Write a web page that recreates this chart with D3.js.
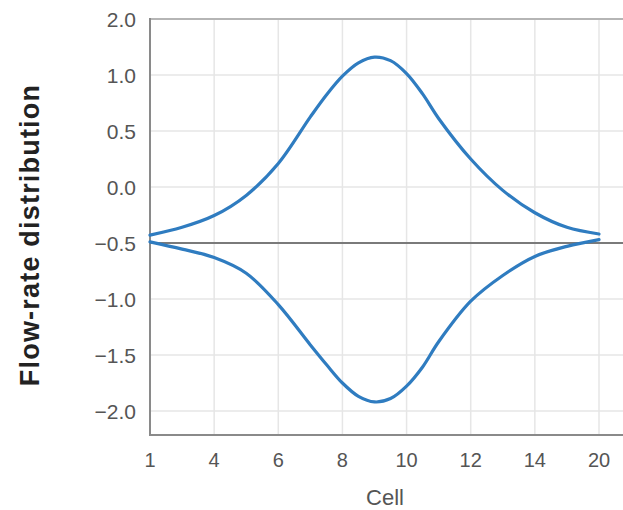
<!DOCTYPE html>
<html>
<head>
<meta charset="utf-8">
<script src="https://cdn.jsdelivr.net/npm/d3@7"></script>
<style>
  body { margin: 0; background: #fff; }
  svg { display: block; font-family: "Liberation Sans", Arial, sans-serif; }
</style>
</head>
<body>
<div id="chart"></div>
<script>
// tick labels (axes are evenly spaced between the labelled values)
const xTicks = [1, 4, 6, 8, 10, 12, 14, 20];
const yTicks = [2.0, 1.0, 0.5, 0.0, -0.5, -1.0, -1.5, -2.0];

// cells where the curves were read
const cells = [1, 2.5, 4, 5, 6, 7, 7.5, 8, 8.5, 9, 9.5, 10, 10.5, 11, 12, 13, 14, 17, 20];

// upper and lower flow-rate curves
const upperFlow = [-0.43, -0.36, -0.255, -0.075, 0.21, 0.626, 0.822, 0.99, 1.218, 1.32,
                   1.256, 1.025, 0.831, 0.612, 0.25, -0.03, -0.23, -0.36, -0.42];
const lowerFlow = [-0.49, -0.555, -0.63, -0.77, -1.05, -1.41, -1.585, -1.75, -1.869, -1.919,
                   -1.889, -1.778, -1.607, -1.382, -1.02, -0.79, -0.62, -0.53, -0.47];
const baseValue = -0.5;

const width = 623, height = 510;
const margin = { left: 150, top: 19 };

const svg = d3.select("#chart").append("svg")
  .attr("width", width)
  .attr("height", height);

// piecewise scales: each labelled tick gets the same spacing
const xStep = (599 - margin.left) / (xTicks.length - 1);
const x = d3.scaleLinear()
  .domain(xTicks)
  .range(xTicks.map((d, i) => margin.left + i * xStep));

const yStep = (411 - margin.top) / (yTicks.length - 1);
const y = d3.scaleLinear()
  .domain(yTicks)
  .range(yTicks.map((d, i) => margin.top + i * yStep));

const plotBottom = 435;

// grid
svg.append("g")
  .selectAll("line")
  .data(xTicks.slice(1))
  .enter().append("line")
  .attr("x1", d => x(d)).attr("x2", d => x(d))
  .attr("y1", y(2.0)).attr("y2", plotBottom)
  .attr("stroke", "#e6e6e6").attr("stroke-width", 1.5);

svg.append("g")
  .selectAll("line")
  .data(yTicks.slice(1))
  .enter().append("line")
  .attr("x1", margin.left).attr("x2", width)
  .attr("y1", d => y(d)).attr("y2", d => y(d))
  .attr("stroke", "#e6e6e6").attr("stroke-width", 1.5);

// frame: top line, left axis, bottom axis
svg.append("line")
  .attr("x1", margin.left).attr("x2", width)
  .attr("y1", y(2.0)).attr("y2", y(2.0))
  .attr("stroke", "#b5b5b5").attr("stroke-width", 2);
svg.append("line")
  .attr("x1", margin.left).attr("x2", margin.left)
  .attr("y1", y(2.0) - 1).attr("y2", plotBottom + 1)
  .attr("stroke", "#8a8a8a").attr("stroke-width", 2);
svg.append("line")
  .attr("x1", margin.left).attr("x2", width)
  .attr("y1", plotBottom).attr("y2", plotBottom)
  .attr("stroke", "#8a8a8a").attr("stroke-width", 2);

// -0.5 reference line
svg.append("line")
  .attr("x1", margin.left).attr("x2", width)
  .attr("y1", y(baseValue)).attr("y2", y(baseValue))
  .attr("stroke", "#7a7a7a").attr("stroke-width", 2);

// tick labels
svg.append("g")
  .selectAll("text")
  .data(yTicks)
  .enter().append("text")
  .attr("x", 136)
  .attr("y", d => y(d))
  .attr("dy", "0.36em")
  .attr("text-anchor", "end")
  .attr("font-size", 21)
  .attr("fill", "#555")
  .text(d => d3.format(".1f")(d).replace("-", "\u2212"));

svg.append("g")
  .selectAll("text")
  .data(xTicks)
  .enter().append("text")
  .attr("x", d => x(d))
  .attr("y", 467)
  .attr("text-anchor", "middle")
  .attr("font-size", 20)
  .attr("fill", "#555")
  .text(d => d);

// axis titles
svg.append("text")
  .attr("x", 385)
  .attr("y", 505)
  .attr("text-anchor", "middle")
  .attr("font-size", 22)
  .attr("fill", "#555")
  .text("Cell");

svg.append("text")
  .attr("transform", "translate(39,235) rotate(-90)")
  .attr("text-anchor", "middle")
  .attr("font-size", 27)
  .attr("font-weight", "bold")
  .attr("letter-spacing", 1.2)
  .attr("fill", "#222")
  .text("Flow-rate distribution");

// curves
const line = d3.line()
  .x((d, i) => x(cells[i]))
  .y(d => y(d))
  .curve(d3.curveCatmullRom.alpha(0.5));

[upperFlow, lowerFlow].forEach(series => {
  svg.append("path")
    .attr("d", line(series))
    .attr("fill", "none")
    .attr("stroke", "#2f7cc0")
    .attr("stroke-width", 3.2)
    .attr("stroke-linecap", "round");
});
</script>
</body>
</html>
